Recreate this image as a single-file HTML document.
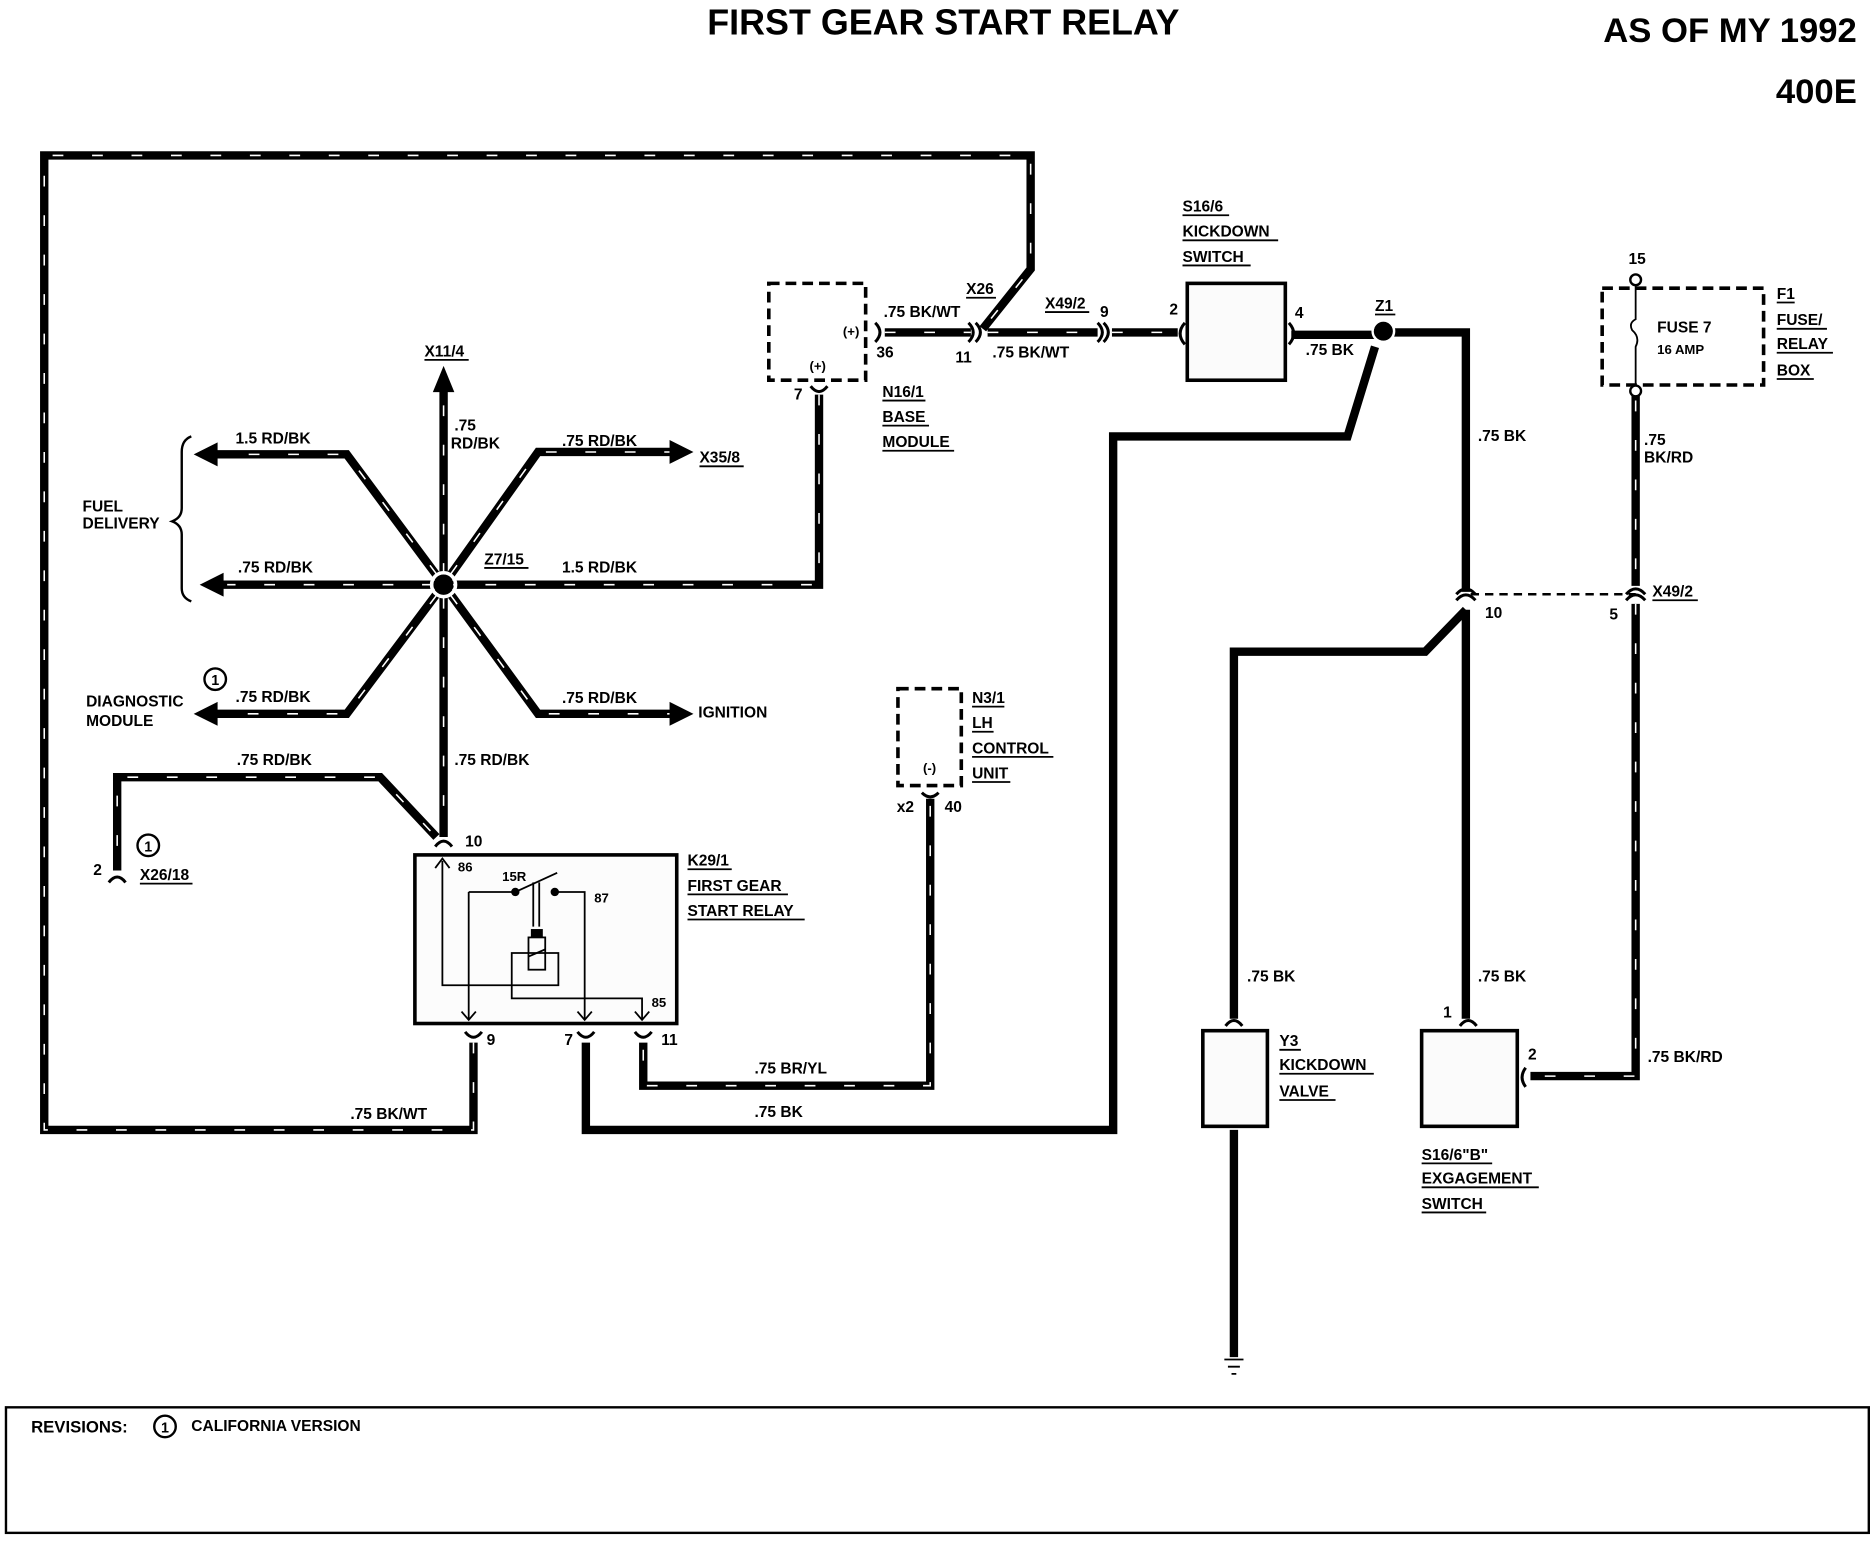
<!DOCTYPE html>
<html><head><meta charset="utf-8"><style>
html,body{margin:0;padding:0;background:#fff;}
svg{display:block;}
text{font-family:"Liberation Sans",Arial,sans-serif;font-weight:bold;fill:#000;}
</style></head><body>
<svg width="1870" height="1552" viewBox="0 0 1564 1298" preserveAspectRatio="none" xmlns="http://www.w3.org/2000/svg">
<rect width="1564" height="1298" fill="#fff"/>
<text x="789" y="29" font-size="30" text-anchor="middle">FIRST GEAR START RELAY</text>
<text x="1553" y="35" font-size="29" text-anchor="end">AS OF MY 1992</text>
<text x="1553" y="86" font-size="29" text-anchor="end">400E</text>

<g fill="none" stroke="#000" stroke-width="7" stroke-linejoin="miter">
<path d="M396,872 V945 H37 V130 H862 V225 L822,275"/>
<path d="M740,278 H812 M826,278 H918 M930,278 H985"/>
<path d="M685,330 V489 H375"/>
<path d="M371,489 V318"/>
<path d="M371,489 L290,380 H178"/>
<path d="M371,489 L450,378 H565"/>
<path d="M371,489 H182"/>
<path d="M371,489 L290,597 H178"/>
<path d="M371,489 L450,597 H565"/>
<path d="M371,489 V700"/>
<path d="M365,700 L318,650 H98 V728"/>
<path d="M538,872 V908 H778 V668"/>
<path d="M1368,330 V490 M1368,505 V900 H1280"/>
<path d="M1080,280 H1150 M1165,278 H1226 V495 M1226,510 V852"/>
<path d="M1150,290 L1127,365 H931 V945 H490 V872"/>
<path d="M1226,510 L1192,545 H1032 V852"/>
<path d="M1032,945 V1135"/>
</g>
<g fill="none" stroke="#fff" stroke-width="1.3" stroke-dasharray="9 24">
<path d="M396,872 V945 H37 V130 H862 V225 L822,275"/>
<path d="M740,278 H812 M826,278 H918 M930,278 H985"/>
<path d="M685,330 V489 H375"/>
<path d="M371,480 V330"/>
<path d="M365,480 L290,380 H185"/>
<path d="M377,480 L450,378 H560"/>
<path d="M362,489 H190"/>
<path d="M365,498 L290,597 H185"/>
<path d="M377,498 L450,597 H560"/>
<path d="M371,500 V695"/>
<path d="M360,695 L318,650 H98 V722"/>
<path d="M538,878 V908 H778 V670"/>
<path d="M1368,335 V490 M1368,505 V900 H1285"/>
</g>
<g fill="#000">
<path d="M371,306 L362,328 H380 Z"/>
<path d="M162,380 L182,370 V390 Z"/>
<path d="M167,489 L187,479 V499 Z"/>
<path d="M162,597 L182,587 V607 Z"/>
<path d="M580,378 L560,368 V388 Z"/>
<path d="M580,597 L560,587 V607 Z"/>
<circle cx="371" cy="489" r="8"/>
<circle cx="1157" cy="277" r="8"/>
</g>
<circle cx="371" cy="489" r="10" fill="none" stroke="#fff" stroke-width="3"/>
<circle cx="1157" cy="277" r="9" fill="none" stroke="#fff" stroke-width="2"/>

<g fill="none" stroke="#000" stroke-width="2.5">
<path d="M678,323 Q685,332 692,323"/>
<path d="M732,270 Q740,278 732,286"/>
<path d="M810,270 Q818,278 810,286 M816,270 Q824,278 816,286"/>
<path d="M918,270 Q926,278 918,286 M923,270 Q931,278 923,286"/>
<path d="M991,270 Q983,279 991,288"/>
<path d="M1078,270 Q1086,279 1078,288"/>
<path d="M1218,497 Q1226,488 1234,497 M1218,502 Q1226,493 1234,502"/>
<path d="M1360,497 Q1368,488 1376,497 M1360,502 Q1368,493 1376,502"/>
<path d="M1025,858 Q1032,849 1039,858"/>
<path d="M1221,858 Q1228,849 1235,858"/>
<path d="M1276,893 Q1270,901 1276,909"/>
<path d="M771,663 Q778,670 785,663"/>
<path d="M91,738 Q98,729 105,738"/>
<path d="M364,708 Q371,699 378,708"/>
<path d="M389,863 Q396,872 403,863"/>
<path d="M483,863 Q490,872 497,863"/>
<path d="M531,863 Q538,872 545,863"/>
</g>
<path d="M1230,497 H1368" stroke="#000" stroke-width="2" stroke-dasharray="7 5"/>

<rect x="643" y="237" width="81" height="81" fill="none" stroke="#000" stroke-width="3" stroke-dasharray="9 5"/>
<rect x="993" y="237" width="82" height="81" fill="#fbfbfb" stroke="#000" stroke-width="3"/>
<rect x="751" y="576" width="53" height="81" fill="none" stroke="#000" stroke-width="3" stroke-dasharray="9 5"/>
<rect x="1340" y="241" width="135" height="81" fill="none" stroke="#000" stroke-width="3" stroke-dasharray="9 5"/>
<rect x="1006" y="862" width="54" height="80" fill="#fbfbfb" stroke="#000" stroke-width="3"/>
<rect x="1189" y="862" width="80" height="80" fill="#fbfbfb" stroke="#000" stroke-width="3"/>
<rect x="347" y="715" width="219" height="141" fill="#fcfcfc" stroke="#000" stroke-width="3"/>
<circle cx="1368" cy="234" r="4.5" fill="#fff" stroke="#000" stroke-width="2"/>
<circle cx="1368" cy="327" r="4.5" fill="#fff" stroke="#000" stroke-width="2"/>
<path d="M1368,239 V267 Q1362,270 1365,276 Q1372,282 1368,290 V322" fill="none" stroke="#000" stroke-width="1.5"/>
<g fill="none" stroke="#000" stroke-width="1.5">
<path d="M370,720 V824 H467 V797 H428 V835 H537 V852"/>
<path d="M392,746 V852 M392,746 H431 L466,730"/>
<path d="M464,746 H489 V852"/>
<path d="M446,738 V775 M451,738 V775"/>
<rect x="442" y="784" width="14" height="27"/>
<path d="M442,800 L456,794"/>
<path d="M364,726 L370,718 L376,726 M386,846 L392,853 L398,846 M483,846 L489,853 L495,846 M531,846 L537,853 L543,846"/>
</g>
<circle cx="431" cy="746" r="3.5" fill="#000"/><circle cx="464" cy="746" r="3.5" fill="#000"/>
<rect x="444" y="777" width="10" height="7" fill="#000"/>
<path d="M1024,1137 H1040 M1027,1143 H1037 M1030,1149 H1034" stroke="#000" stroke-width="1.5"/>
<path d="M160,365 Q152,368 152,378 V425 Q152,433 144,436 Q152,439 152,447 V492 Q152,500 160,503" fill="none" stroke="#000" stroke-width="2"/>
<g fill="none" stroke="#000" stroke-width="2"><circle cx="180" cy="568" r="9"/><circle cx="124" cy="707" r="9"/><circle cx="138" cy="1193" r="9"/></g>
<g font-size="12" text-anchor="middle"><text x="180" y="573">1</text><text x="124" y="712">1</text><text x="138" y="1198">1</text></g>

<g font-size="13">
<text x="739" y="265">.75 BK/WT</text>
<text x="808" y="246">X26</text>
<text x="874" y="258">X49/2</text>
<text x="920" y="265">9</text>
<text x="978" y="263">2</text>
<text x="1083" y="266">4</text>
<text x="1150" y="260">Z1</text>
<text x="733" y="299">36</text>
<text x="799" y="303">11</text>
<text x="830" y="299">.75 BK/WT</text>
<text x="1092" y="297">.75 BK</text>
<text x="664" y="334">7</text>
<text x="705" y="281" font-size="11">(+)</text>
<text x="677" y="310" font-size="11">(+)</text>
<text x="989" y="177">S16/6</text>
<text x="989" y="198">KICKDOWN</text>
<text x="989" y="219">SWITCH</text>
<text x="738" y="332">N16/1</text>
<text x="738" y="353">BASE</text>
<text x="738" y="374">MODULE</text>
<text x="1362" y="221">15</text>
<text x="1386" y="278">FUSE 7</text>
<text x="1386" y="296" font-size="11">16 AMP</text>
<text x="1486" y="250">F1</text>
<text x="1486" y="272">FUSE/</text>
<text x="1486" y="292">RELAY</text>
<text x="1486" y="314">BOX</text>
<text x="1375" y="372">.75</text>
<text x="1375" y="387">BK/RD</text>
<text x="1236" y="369">.75 BK</text>
<text x="1382" y="499">X49/2</text>
<text x="1242" y="517">10</text>
<text x="1346" y="518">5</text>
<text x="355" y="298">X11/4</text>
<text x="380" y="360">.75</text>
<text x="377" y="375">RD/BK</text>
<text x="197" y="371">1.5 RD/BK</text>
<text x="470" y="373">.75 RD/BK</text>
<text x="585" y="387">X35/8</text>
<text x="69" y="428">FUEL</text>
<text x="69" y="442">DELIVERY</text>
<text x="199" y="479">.75 RD/BK</text>
<text x="405" y="472">Z7/15</text>
<text x="470" y="479">1.5 RD/BK</text>
<text x="72" y="591">DIAGNOSTIC</text>
<text x="72" y="607">MODULE</text>
<text x="197" y="587">.75 RD/BK</text>
<text x="470" y="588">.75 RD/BK</text>
<text x="584" y="600">IGNITION</text>
<text x="198" y="640">.75 RD/BK</text>
<text x="380" y="640">.75 RD/BK</text>
<text x="813" y="588">N3/1</text>
<text x="813" y="609">LH</text>
<text x="813" y="630">CONTROL</text>
<text x="813" y="651">UNIT</text>
<text x="772" y="646" font-size="11">(-)</text>
<text x="750" y="679">x2</text>
<text x="790" y="679">40</text>
<text x="389" y="708">10</text>
<text x="78" y="732">2</text>
<text x="117" y="736">X26/18</text>
<text x="575" y="724">K29/1</text>
<text x="575" y="745">FIRST GEAR</text>
<text x="575" y="766">START RELAY</text>
<text x="383" y="729" font-size="11">86</text>
<text x="420" y="737" font-size="11">15R</text>
<text x="497" y="755" font-size="11">87</text>
<text x="545" y="842" font-size="11">85</text>
<text x="407" y="874">9</text>
<text x="472" y="874">7</text>
<text x="553" y="874">11</text>
<text x="631" y="898">.75 BR/YL</text>
<text x="293" y="936">.75 BK/WT</text>
<text x="631" y="934">.75 BK</text>
<text x="1043" y="821">.75 BK</text>
<text x="1236" y="821">.75 BK</text>
<text x="1207" y="851">1</text>
<text x="1278" y="886">2</text>
<text x="1378" y="888">.75 BK/RD</text>
<text x="1070" y="875">Y3</text>
<text x="1070" y="895">KICKDOWN</text>
<text x="1070" y="917">VALVE</text>
<text x="1189" y="970">S16/6"B"</text>
<text x="1189" y="990">EXGAGEMENT</text>
<text x="1189" y="1011">SWITCH</text>
<text x="26" y="1198" font-size="14">REVISIONS:</text>
<text x="160" y="1197">CALIFORNIA VERSION</text>
</g>
<g stroke="#000" stroke-width="1.5">
<path d="M808,249 H833 M874,261 H911 M1150,263 H1167 M989,180 H1028 M989,201 H1069 M989,222 H1046"/>
<path d="M738,335 H774 M738,356 H777 M738,377 H798 M1486,253 H1501 M1486,275 H1528 M1486,295 H1533 M1486,317 H1517"/>
<path d="M355,301 H392 M585,390 H622 M405,475 H442 M1382,502 H1420 M813,591 H840 M813,612 H831 M813,633 H881 M813,654 H845"/>
<path d="M117,739 H161 M575,727 H612 M575,748 H659 M575,769 H673 M1070,878 H1088 M1070,898 H1149 M1070,920 H1117"/>
<path d="M1189,973 H1248 M1189,993 H1287 M1189,1014 H1243"/>
</g>
<rect x="5" y="1177" width="1558" height="105" fill="none" stroke="#000" stroke-width="2"/>
</svg>
</body></html>
